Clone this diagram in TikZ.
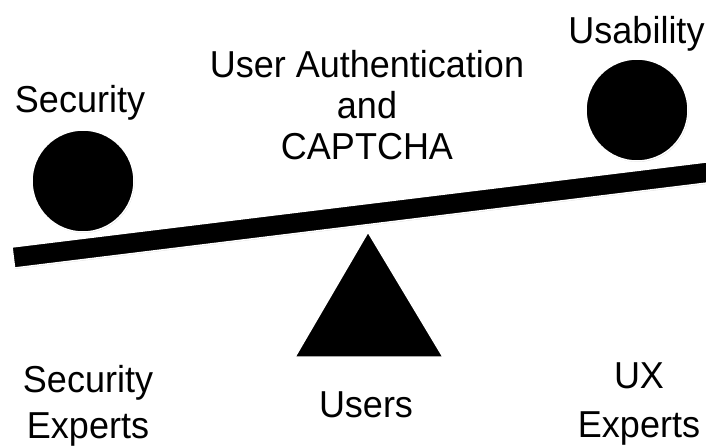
\documentclass[tikz,border=0pt]{standalone}
\usepackage{fontspec}
\setmainfont{Liberation Sans}[FakeStretch=0.96]
\usetikzlibrary{shadows}
\begin{document}
\begin{tikzpicture}[x=1pt,y=-1pt,
  caption/.style={font=\fontsize{37.5}{41}\selectfont, align=center, inner sep=0pt},
  solidshape/.style={fill=black, draw=white, line width=1.5pt,
    drop shadow={shadow xshift=0.6pt, shadow yshift=-0.9pt, opacity=0.25, fill=black!70}}]
  \useasboundingbox (0,0) rectangle (706,445);

  % seesaw beam, running off the right edge
  \path[solidshape] (12,247) -- (720,160.3) -- (722.6,181.1) -- (14.6,268) -- cycle;

  % fulcrum
  \path[solidshape] (368,232) -- (295,357) -- (443,357) -- cycle;

  % the two weights
  \node[solidshape, circle, minimum size=102pt, inner sep=0pt] (secball) at (83,181) {};
  \node[solidshape, circle, minimum size=102pt, inner sep=0pt] (useball) at (637,110) {};

  % labels above the beam
  \node[caption, anchor=base] (sec) at (80,112) {Security};
  \node[caption, anchor=base] (use) at (636.5,43) {Usability};
  \node[caption, anchor=north] (topic) at (367,50.1) {User Authentication\\and\\CAPTCHA};

  % labels below the beam
  \node[caption, anchor=north, font=\fontsize{37.5}{46}\selectfont] (secexp) at (88,365.1) {Security\\Experts};
  \node[caption, anchor=base] (users) at (366,417) {Users};
  \node[caption, anchor=north, font=\fontsize{37.5}{49}\selectfont] (uxexp) at (639,362.1) {UX\\Experts};
\end{tikzpicture}
\end{document}
